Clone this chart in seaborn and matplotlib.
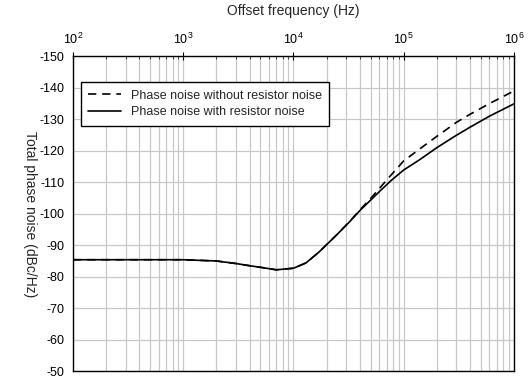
import matplotlib
matplotlib.use("Agg")
import matplotlib.pyplot as plt
import seaborn as sns
import pandas as pd

# values (the picture is shown flipped top-to-bottom)
freq = [100, 300, 1000, 2000, 3000, 4000, 5000, 7000, 10000, 13000, 17000,
        20000, 25000, 33000, 40000, 50000, 60000, 76000, 100000, 140000,
        200000, 300000, 400000, 600000, 1000000]
noise_without = [-85.4, -85.4, -85.4, -85.0, -84.2, -83.5, -83.0, -82.2, -82.7,
                 -84.4, -87.8, -90.2, -93.5, -97.9, -101.2, -104.8, -108.0,
                 -112.1, -116.8, -120.6, -124.6, -129.0, -131.6, -135.0, -139.0]
noise_with = [-85.4, -85.4, -85.4, -85.0, -84.2, -83.5, -83.0, -82.2, -82.7,
              -84.4, -87.8, -90.2, -93.5, -97.8, -101.0, -104.3, -107.0,
              -110.4, -113.9, -117.2, -121.0, -124.9, -127.5, -131.0, -134.9]
label_without = "Phase noise without resistor noise"
label_with = "Phase noise with resistor noise"
x_ticks = [1e2, 1e3, 1e4, 1e5, 1e6]
y_ticks = list(range(-150, -40, 10))

df_without = pd.DataFrame({"freq": freq, "noise": noise_without})
df_with = pd.DataFrame({"freq": freq, "noise": noise_with})

sns.set_style("white")
plt.rcParams["font.family"] = ["Liberation Sans", "DejaVu Sans"]
plt.rcParams["axes.unicode_minus"] = False

fig = plt.figure(figsize=(5.3, 3.78), dpi=100)
ax = fig.add_axes([0.1377, 0.018, 0.832, 0.833])

sns.lineplot(data=df_without, x="freq", y="noise", ax=ax, color="black",
             linewidth=1.2, dashes=False, label=label_without)
sns.lineplot(data=df_with, x="freq", y="noise", ax=ax, color="black",
             linewidth=1.2, label=label_with)
ax.lines[0].set_dashes((5, 3.5))

ax.set_xscale("log")
ax.set_xlim(1e2, 1e6)
ax.set_ylim(-50, -150)
ax.set_xticks(x_ticks)
ax.set_yticks(y_ticks)

# axis texts sit at top/left like the flipped reference
ax.xaxis.tick_top()
ax.xaxis.set_label_position("top")
ax.set_xlabel("Offset frequency (Hz)", fontsize=10)
ax.xaxis.set_label_coords(0.5, 1.13)
ax.set_ylabel("Total phase noise (dBc/Hz)", fontsize=10, rotation=270, va="center")
ax.yaxis.set_label_coords(-0.0975, 0.5)

ax.tick_params(axis="both", which="major", direction="inout", length=6,
               width=0.8, labelsize=9, colors="black")
ax.tick_params(axis="x", which="major", pad=4)
ax.tick_params(axis="y", which="major", pad=3)
ax.tick_params(axis="x", which="minor", direction="in", length=2, width=0.6)

ax.grid(True, which="major", color="#c8c8c8", linewidth=0.9)
ax.grid(True, which="minor", axis="x", color="#c8c8c8", linewidth=0.9)
ax.set_axisbelow(True)
for spine in ax.spines.values():
    spine.set_color("black")
    spine.set_linewidth(1.0)

leg = ax.legend(loc="upper left", bbox_to_anchor=(0.018, 0.918), borderaxespad=0,
                fontsize=9, fancybox=False, framealpha=1, edgecolor="black",
                handlelength=2.6, handletextpad=0.8, labelspacing=0.35,
                borderpad=0.6)
leg.get_frame().set_linewidth(1.0)

fig.savefig("out.png", dpi=100)
